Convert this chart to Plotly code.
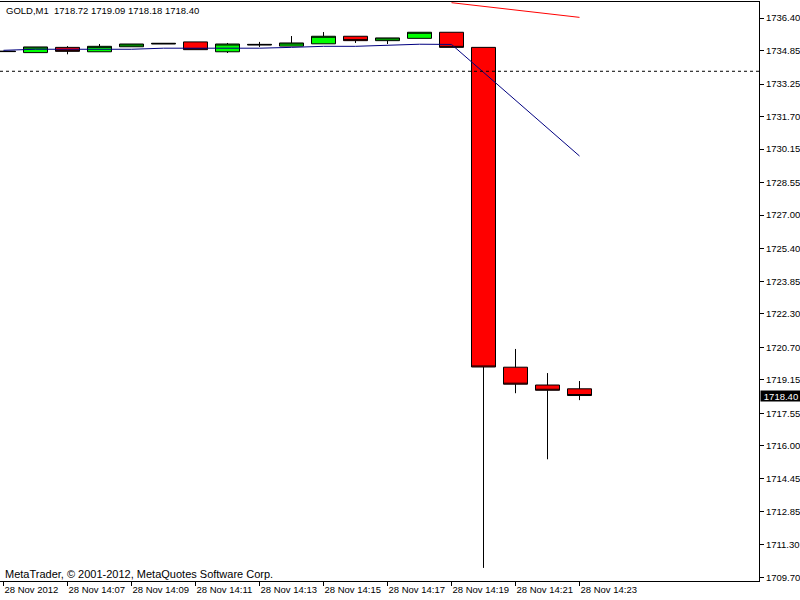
import plotly.graph_objects as go

# ---- data ----
times = ["2012-11-28 14:%02d" % m for m in range(5, 24)]
opens = [1734.82, 1734.75, 1735.00, 1734.79, 1735.03, 1735.16, 1735.26, 1734.79, 1735.11, 1735.06,
         1735.17, 1735.53, 1735.32, 1735.43, 1735.72, 1735.00, 1719.75, 1718.90, 1718.72]
highs = [1734.83, 1735.02, 1735.06, 1735.16, 1735.16, 1735.19, 1735.26, 1735.21, 1735.26, 1735.54,
         1735.73, 1735.53, 1735.45, 1735.72, 1735.72, 1735.00, 1720.62, 1719.47, 1719.09]
lows = [1734.79, 1734.75, 1734.67, 1734.79, 1735.03, 1735.16, 1734.89, 1734.73, 1735.02, 1735.06,
        1735.17, 1735.21, 1735.16, 1735.43, 1735.00, 1710.18, 1718.51, 1715.36, 1718.18]
closes = [1734.80, 1735.02, 1734.81, 1735.05, 1735.16, 1735.19, 1734.89, 1735.16, 1735.14, 1735.21,
          1735.53, 1735.32, 1735.45, 1735.72, 1735.00, 1719.76, 1718.94, 1718.65, 1718.40]

ma_blue = [1734.86, 1734.91, 1734.91, 1734.91, 1734.91, 1734.96, 1734.96, 1734.96, 1734.96, 1735.00,
           1735.05, 1735.05, 1735.10, 1735.15, 1735.14, 1733.82, 1732.48, 1731.14, 1729.82]
red_times = times[14:]
red_line = [1737.13, 1736.96, 1736.78, 1736.61, 1736.43]

level_price = 1733.86
last_price = 1718.40

y_ticks = [1736.40, 1734.85, 1733.25, 1731.70, 1730.15, 1728.55, 1727.00, 1725.40, 1723.85,
           1722.30, 1720.70, 1719.15, 1717.55, 1716.00, 1714.45, 1712.85, 1711.30, 1709.70]
x_ticks = times[0::2]
x_ticktext = ["28 Nov 2012"] + ["28 Nov " + t[-5:] for t in x_ticks[1:]]

x_range = ["2012-11-28 14:04:53.4375", "2012-11-28 14:28:36.5625"]
y_range = [1709.556, 1737.163]

header = "GOLD,M1  %.2f %.2f %.2f %.2f" % (opens[-1], highs[-1], lows[-1], closes[-1])
footer = "MetaTrader, © 2001-2012, MetaQuotes Software Corp."

FONT = "Tahoma, 'Liberation Sans', Arial, sans-serif"

fig = go.Figure()
fig.add_trace(go.Candlestick(
    x=times, open=opens, high=highs, low=lows, close=closes,
    increasing=dict(fillcolor="#00FF00", line=dict(color="black", width=1)),
    decreasing=dict(fillcolor="#FF0000", line=dict(color="black", width=1)),
    whiskerwidth=0, showlegend=False, hoverinfo="skip",
))
fig.add_trace(go.Scatter(x=times, y=ma_blue, mode="lines",
                         line=dict(color="#000080", width=1), showlegend=False, hoverinfo="skip"))
fig.add_trace(go.Scatter(x=red_times, y=red_line, mode="lines",
                         line=dict(color="#FF0000", width=1), showlegend=False, hoverinfo="skip"))

fig.add_hline(y=level_price, line=dict(color="black", width=1, dash="3px,3px"))

fig.add_annotation(text=header, xref="paper", yref="paper", x=0, y=1, xanchor="left", yanchor="top",
                   xshift=4, yshift=-1, showarrow=False, font=dict(family=FONT, size=9.5, color="black"))
fig.add_annotation(text=footer, xref="paper", yref="paper", x=0, y=0, xanchor="left", yanchor="bottom",
                   xshift=3, yshift=-1, showarrow=False, font=dict(family=FONT, size=11, color="black"))
fig.add_annotation(text="%.2f" % last_price, xref="paper", yref="y", x=1, y=last_price,
                   xanchor="left", yanchor="middle", xshift=1, showarrow=False,
                   bgcolor="black", borderpad=0, width=40, height=10,
                   font=dict(family=FONT, size=9.5, color="white"))

fig.update_layout(
    width=800, height=600,
    margin=dict(l=0, r=41, t=2, b=19, autoexpand=False),
    paper_bgcolor="white", plot_bgcolor="white",
    boxgap=0.25, boxgroupgap=0,
    font=dict(family=FONT, size=9.5, color="black"),
    xaxis=dict(
        type="date", range=x_range, rangeslider=dict(visible=False),
        showgrid=False, zeroline=False, automargin=False,
        showline=True, linecolor="black", linewidth=1, mirror=True,
        ticks="outside", ticklen=4, tickcolor="black", tickwidth=1,
        tickvals=x_ticks, ticktext=x_ticktext, ticklabelposition="outside right",
        tickangle=0,
        tickfont=dict(family=FONT, size=9.5, color="black"),
    ),
    yaxis=dict(
        range=y_range, side="right",
        showgrid=False, zeroline=False, automargin=False,
        showline=True, linecolor="black", linewidth=1,
        ticks="outside", ticklen=4, tickcolor="black", tickwidth=1,
        tickvals=y_ticks, ticktext=["%.2f" % v for v in y_ticks],
        tickfont=dict(family=FONT, size=9.5, color="black"),
    ),
)

fig.write_html("out.html", config={"displayModeBar": False},
               post_script="document.body.style.margin='0';document.body.style.padding='0';"
                           "document.body.style.overflow='hidden';")
